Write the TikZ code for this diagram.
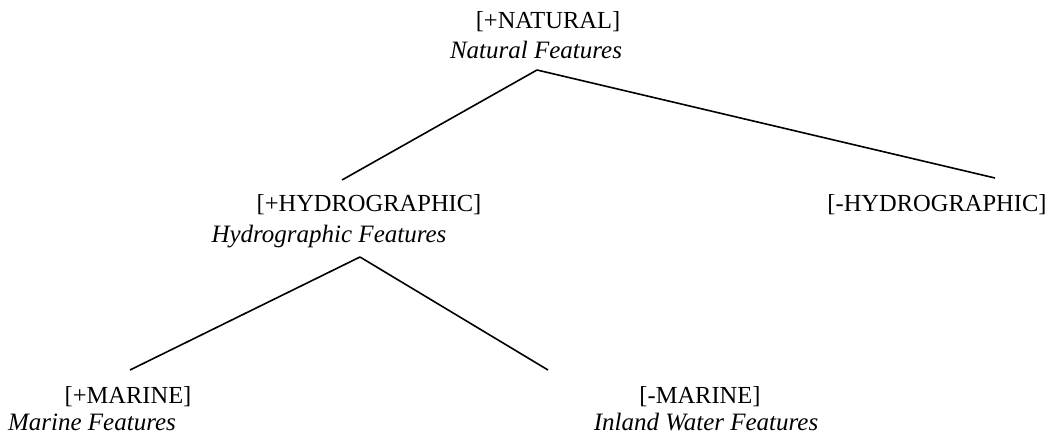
\documentclass[tikz,border=0pt]{standalone}
\usepackage{fontspec}
\setmainfont{Liberation Serif}

\begin{document}
\begin{tikzpicture}[x=1pt,y=-1pt,line width=1.6pt,
    feat/.style={anchor=base,inner sep=0pt,font=\fontsize{24.5}{28}\selectfont},
    gloss/.style={anchor=base,inner sep=0pt,font=\fontsize{25}{28}\selectfont\itshape}]
    \useasboundingbox (0,0) rectangle (1049,436);
    \node (nattag) at (548,29) [feat] {[+NATURAL]};
    \node (natgl) at (536,59) [gloss] {Natural Features};
    \node (hydtag) at (369,211) [feat] {[+HYDROGRAPHIC]};
    \node (hydgl) at (329,242) [gloss] {Hydrographic Features};
    \node (nhydtag) at (937,211) [feat] {[-HYDROGRAPHIC]};
    \node (martag) at (128,403) [feat] {[+MARINE]};
    \node (margl) at (92,430) [gloss] {Marine Features};
    \node (nmartag) at (700,403) [feat] {[-MARINE]};
    \node (inlgl) at (706,430) [gloss] {Inland Water Features};
    %% branch points of the tree
    \coordinate (natroot) at (537,70);
    \coordinate (hydtop) at (342,180);
    \coordinate (nhydtop) at (995,178);
    \coordinate (hydroot) at (360,257);
    \coordinate (martop) at (130,370);
    \coordinate (nmartop) at (548,370);
    \draw (natroot) -- (hydtop);
    \draw (natroot) -- (nhydtop);
    \draw (hydroot) -- (martop);
    \draw (hydroot) -- (nmartop);
\end{tikzpicture}
\end{document}
